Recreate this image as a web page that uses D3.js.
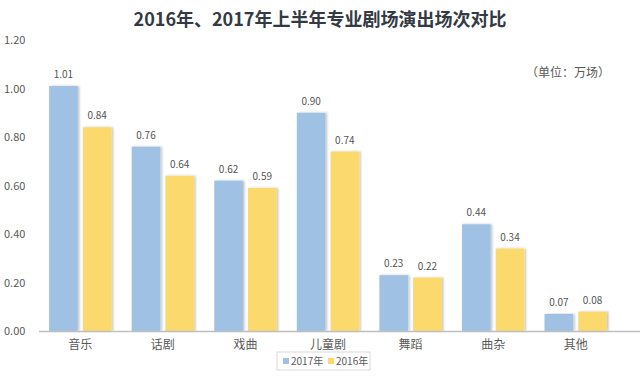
<!DOCTYPE html>
<html>
<head>
<meta charset="utf-8">
<script src="https://cdn.jsdelivr.net/npm/d3@7"></script>
<style>
  body { margin: 0; background: #fff; }
  svg text { font-family: "Noto Sans CJK SC", "Liberation Sans", sans-serif; }
</style>
</head>
<body>
<div id="chart"></div>
<script>
// categories and series
const categories = ["音乐", "话剧", "戏曲", "儿童剧", "舞蹈", "曲杂", "其他"];
const series = ["2017年", "2016年"];
const values2017 = [1.01, 0.76, 0.62, 0.90, 0.23, 0.44, 0.07];
const values2016 = [0.84, 0.64, 0.59, 0.74, 0.22, 0.34, 0.08];
const yTicks = [0, 0.2, 0.4, 0.6, 0.8, 1.0, 1.2];

const width = 640, height = 378;
const margin = { top: 40, right: 23, bottom: 47, left: 39 };
const colors = ["#9fc1e4", "#fbd96c"];

const svg = d3.select("#chart").append("svg")
    .attr("width", width)
    .attr("height", height);

// soft shadow under bars
const defs = svg.append("defs");
const f = defs.append("filter").attr("id", "shadow")
    .attr("x", "-20%").attr("y", "-5%").attr("width", "150%").attr("height", "115%");
f.append("feDropShadow").attr("dx", 1.5).attr("dy", 0).attr("stdDeviation", 1)
    .attr("flood-color", "#000").attr("flood-opacity", 0.25);

const x = d3.scaleBand()
    .domain(categories)
    .range([margin.left, width - margin.right]);

const xInner = d3.scaleBand()
    .domain(series)
    .range([0, x.bandwidth()])
    .paddingInner(0.15)
    .paddingOuter(0.3);

const y = d3.scaleLinear()
    .domain([0, 1.2])
    .range([height - margin.bottom, margin.top]);

// y tick labels
svg.append("g")
    .selectAll("text")
    .data(yTicks)
    .enter()
    .append("text")
    .attr("x", 4)
    .attr("y", d => y(d) + 4)
    .attr("font-size", "11px")
    .attr("fill", "#595959")
    .text(d => d.toFixed(2));

const rows = categories.map((c, i) => ({ cat: c, vals: [values2017[i], values2016[i]] }));

const group = svg.selectAll("g.cat")
    .data(rows)
    .enter()
    .append("g")
    .attr("class", "cat")
    .attr("transform", d => `translate(${x(d.cat)},0)`);

group.selectAll("rect")
    .data(d => d.vals.map((v, k) => ({ s: series[k], v, k })))
    .enter()
    .append("rect")
    .attr("x", d => xInner(d.s))
    .attr("y", d => y(d.v))
    .attr("width", xInner.bandwidth())
    .attr("height", d => y(0) - y(d.v))
    .attr("fill", d => colors[d.k])
    .attr("filter", "url(#shadow)");

group.selectAll("text.val")
    .data(d => d.vals.map((v, k) => ({ s: series[k], v, k })))
    .enter()
    .append("text")
    .attr("class", "val")
    .attr("x", d => xInner(d.s) + xInner.bandwidth() / 2)
    .attr("y", d => y(d.v) - 8)
    .attr("text-anchor", "middle")
    .attr("font-size", "10px")
    .attr("fill", "#555")
    .text(d => d.v.toFixed(2));

// x axis line
svg.append("line")
    .attr("x1", margin.left)
    .attr("x2", width)
    .attr("y1", y(0) + 0.5)
    .attr("y2", y(0) + 0.5)
    .attr("stroke", "#bfbfbf")
    .attr("stroke-width", 1.5);

// category labels
svg.append("g")
    .selectAll("text")
    .data(categories)
    .enter()
    .append("text")
    .attr("x", d => x(d) + x.bandwidth() / 2)
    .attr("y", y(0) + 18)
    .attr("text-anchor", "middle")
    .attr("font-size", "12px")
    .attr("fill", "#595959")
    .text(d => d);

// title
svg.append("text")
    .attr("x", 320)
    .attr("y", 26)
    .attr("text-anchor", "middle")
    .attr("font-size", "18px")
    .attr("font-weight", "bold")
    .attr("fill", "#333a44")
    .text("2016年、2017年上半年专业剧场演出场次对比");

// unit
svg.append("text")
    .attr("x", 568)
    .attr("y", 77)
    .attr("text-anchor", "middle")
    .attr("font-size", "12px")
    .attr("fill", "#595959")
    .text("（单位：万场）");

// legend
const lg = svg.append("g").attr("transform", "translate(277,352)");
lg.append("rect")
    .attr("width", 93).attr("height", 18)
    .attr("fill", "#fff").attr("stroke", "#d9d9d9");
const li = lg.selectAll("g.item")
    .data(series)
    .enter()
    .append("g")
    .attr("class", "item")
    .attr("transform", (d, i) => `translate(${6 + i * 45},0)`);
li.append("rect")
    .attr("y", 6).attr("width", 6).attr("height", 6)
    .attr("fill", (d, i) => colors[i]);
li.append("text")
    .attr("x", 8)
    .attr("y", 13)
    .attr("font-size", "10px")
    .attr("fill", "#595959")
    .text(d => d);
</script>
</body>
</html>
